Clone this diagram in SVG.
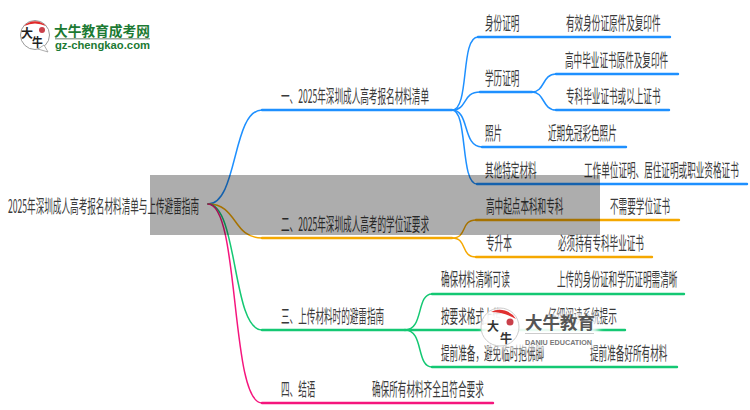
<svg xmlns="http://www.w3.org/2000/svg" width="750" height="410" viewBox="0 0 750 410">
<defs>
<filter id="soft" x="-20%" y="-30%" width="140%" height="160%"><feGaussianBlur stdDeviation="3"/></filter>
<style>
text{font-family:"Noto Sans CJK SC","Liberation Sans",sans-serif;font-size:18px;fill:#3a3a3a}
.c{fill:none;stroke-width:1.5;stroke-linecap:round}
.h{stroke-width:2.4}
.b{stroke:#1e90ff}.o{stroke:#f5a800}.g{stroke:#14c873}.p{stroke:#f5157d}
</style>
</defs>
<rect width="750" height="410" fill="#fff"/>
<g id="connectors">
<path class="c b" d="M208 204C238 204 232 110 262 110"/>
<path class="c o" d="M208 204C238 204 232 238 262 238"/>
<path class="c g" d="M208 204C238 204 232 330 262 330"/>
<path class="c p" d="M208 204C240 204 230 403 262 403"/>
<path class="c h b" d="M262 110H452"/>
<path class="c h o" d="M262 238H452"/>
<path class="c h g" d="M262 330H405"/>
<path class="c h p" d="M262 403H493"/>
<path class="c b" d="M452 110C470 110 460 37 478 37"/>
<path class="c h b" d="M478 37H670"/>
<path class="c b" d="M452 110C468 110 462 92 480 92"/>
<path class="c h b" d="M480 92H532"/>
<path class="c b" d="M532 92C545 92 542 74 556 74"/>
<path class="c h b" d="M556 74H678"/>
<path class="c b" d="M532 92C545 92 542 110 556 110"/>
<path class="c h b" d="M556 110H669"/>
<path class="c b" d="M452 110C470 110 462 147 482 147"/>
<path class="c h b" d="M482 147H626"/>
<path class="c b" d="M452 110C468 110 460 184 477 184"/>
<path class="c h b" d="M477 184H747"/>
<path class="c o" d="M452 238C468 238 460 220 476 220"/>
<path class="c h o" d="M476 220H679"/>
<path class="c o" d="M452 238C468 238 460 257 476 257"/>
<path class="c h o" d="M476 257H652"/>
<path class="c g" d="M405 330C424 330 416 294 432 294"/>
<path class="c h g" d="M432 294H684"/>
<path class="c h g" d="M405 330H625"/>
<path class="c g" d="M405 330C424 330 416 367 432 367"/>
<path class="c h g" d="M432 367H677"/>
</g>
<g id="root"><text transform="translate(8 213) scale(.478 1)">2025年深圳成人高考报名材料清单与上传避雷指南</text></g>
<g id="n1"><text transform="translate(281 103) scale(.478 1)">一、2025年深圳成人高考报名材料清单</text></g>
<g id="n1-1"><text transform="translate(485 30) scale(.478 1)">身份证明</text></g>
<g id="n1-1-1"><text transform="translate(566 30) scale(.478 1)">有效身份证原件及复印件</text></g>
<g id="n1-2"><text transform="translate(485 85) scale(.478 1)">学历证明</text></g>
<g id="n1-2-1"><text transform="translate(565 67) scale(.478 1)">高中毕业证书原件及复印件</text></g>
<g id="n1-2-2"><text transform="translate(566 103) scale(.478 1)">专科毕业证书或以上证书</text></g>
<g id="n1-3"><text transform="translate(485 140) scale(.478 1)">照片</text></g>
<g id="n1-3-1"><text transform="translate(548 140) scale(.478 1)">近期免冠彩色照片</text></g>
<g id="n1-4"><text transform="translate(485 177) scale(.478 1)">其他特定材料</text></g>
<g id="n1-4-1"><text transform="translate(584 177) scale(.478 1)">工作单位证明、居住证明或职业资格证书</text></g>
<g id="n2"><text transform="translate(281 231) scale(.478 1)">二、2025年深圳成人高考的学位证要求</text></g>
<g id="n2-1"><text transform="translate(486 213) scale(.478 1)">高中起点本科和专科</text></g>
<g id="n2-1-1"><text transform="translate(610 213) scale(.478 1)">不需要学位证书</text></g>
<g id="n2-2"><text transform="translate(486 250) scale(.478 1)">专升本</text></g>
<g id="n2-2-1"><text transform="translate(558 250) scale(.478 1)">必须持有专科毕业证书</text></g>
<g id="n3"><text transform="translate(281 323) scale(.478 1)">三、上传材料时的避雷指南</text></g>
<g id="n3-1"><text transform="translate(441 286) scale(.478 1)">确保材料清晰可读</text></g>
<g id="n3-1-1"><text transform="translate(557 286) scale(.478 1)">上传的身份证和学历证明需清晰</text></g>
<g id="n3-2"><text transform="translate(441 323) scale(.478 1)">按要求格式上传</text></g>
<g id="n3-2-1"><text transform="translate(548 323) scale(.478 1)">仔细阅读系统提示</text></g>
<g id="n3-3"><text transform="translate(441 360) scale(.478 1)">提前准备，避免临时抱佛脚</text></g>
<g id="n3-3-1"><text transform="translate(590 360) scale(.478 1)">提前准备好所有材料</text></g>
<g id="n4"><text transform="translate(281 396) scale(.478 1)">四、结语</text></g>
<g id="n4-1"><text transform="translate(372 396) scale(.478 1)">确保所有材料齐全且符合要求</text></g>
<rect x="150" y="175" width="450" height="60" fill="#000" fill-opacity=".32"/>
<g id="logo">
<circle cx="35" cy="35" r="14.5" fill="#fff" stroke="#999" stroke-width="1"/>
<path d="M24 26A15 15 0 0 1 46 26Q35 21 24 26Z" fill="#e02a2a"/>
<path d="M38 49L48 52L44 45Z" fill="#fff" stroke="#999" stroke-width=".8"/>
<circle cx="42" cy="30" r="3" fill="#c9404a"/>
<text transform="translate(21 38)" style="font-size:12px;fill:#222;font-weight:700">大</text>
<text transform="translate(32 47) scale(.9 1)" style="font-size:12px;fill:#222;font-weight:700">牛</text>
<text x="54" y="36" textLength="96" lengthAdjust="spacingAndGlyphs" style="font-size:14px;fill:#1c7a33;font-weight:700">大牛教育成考网</text>
<rect x="55" y="38" width="95" height="1.5" fill="#9aa89c"/>
<text x="55" y="49" textLength="95" lengthAdjust="spacingAndGlyphs" style="font-family:'Liberation Sans',sans-serif;font-size:11px;fill:#1c7a33;font-weight:700">gz-chengkao.com</text>
</g>
<g id="watermark">
<rect x="484" y="314" width="114" height="34" rx="8" fill="#fff" fill-opacity=".9" filter="url(#soft)"/>
<circle cx="500" cy="327" r="19" fill="#fff" fill-opacity=".8" stroke="#ccc" stroke-width="1"/>
<path d="M491 312A19 19 0 0 1 516 319Q504 312 491 312Z" fill="#e03030"/>
<circle cx="510" cy="322" r="3.5" fill="#c9404a"/>
<text transform="translate(487 331)" style="font-size:12px;fill:#333;font-weight:700">大</text>
<text transform="translate(500 343)" style="font-size:12px;fill:#333;font-weight:700">牛</text>
<text x="525" y="329" textLength="70" lengthAdjust="spacingAndGlyphs" style="font-size:17px;fill:#555;font-weight:700">大牛教育</text>
<rect x="525" y="333" width="69" height="1" fill="#ccc"/>
<text x="525" y="345" textLength="67" lengthAdjust="spacingAndGlyphs" style="font-family:'Liberation Sans',sans-serif;font-size:7px;fill:#777;font-weight:700">DANIU EDUCATION</text>
</g>
</svg>
